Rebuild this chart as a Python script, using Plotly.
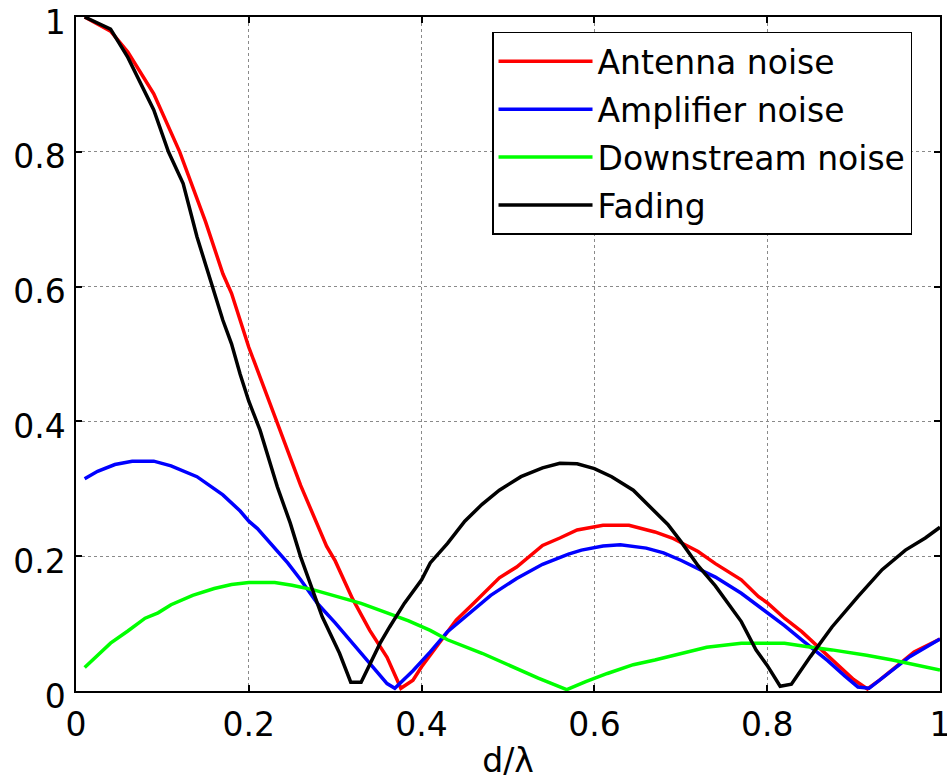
import plotly.graph_objects as go

# Antenna noise (red)
x_antenna = [0.01, 0.04, 0.06, 0.08, 0.09, 0.12, 0.15, 0.17, 0.18, 0.20, 0.22, 0.23, 0.26, 0.29, 0.30,
             0.32, 0.34, 0.36, 0.376, 0.39, 0.40, 0.42, 0.44, 0.46, 0.49, 0.51, 0.54, 0.56, 0.58, 0.61,
             0.64, 0.67, 0.69, 0.72, 0.74, 0.77, 0.79, 0.80, 0.82, 0.84, 0.86, 0.88, 0.90, 0.916, 0.93,
             0.95, 0.97, 1.0]
y_antenna = [1.0, 0.979, 0.948, 0.908, 0.886, 0.80, 0.696, 0.619, 0.59, 0.510, 0.44, 0.408, 0.305, 0.215, 0.193,
             0.137, 0.09, 0.05, 0.004, 0.016, 0.036, 0.07, 0.105, 0.13, 0.168, 0.184, 0.216, 0.227, 0.239, 0.246,
             0.246, 0.236, 0.227, 0.207, 0.189, 0.165, 0.14, 0.131, 0.108, 0.088, 0.064, 0.041, 0.017, 0.003, 0.016,
             0.037, 0.058, 0.077]

# Amplifier noise (blue)
x_amplifier = [0.01, 0.025, 0.045, 0.065, 0.09, 0.11, 0.14, 0.17, 0.19, 0.20, 0.21, 0.23, 0.245, 0.26, 0.28,
               0.30, 0.32, 0.34, 0.36, 0.369, 0.39, 0.41, 0.43, 0.455, 0.48, 0.51, 0.54, 0.57, 0.585, 0.61,
               0.63, 0.66, 0.68, 0.70, 0.74, 0.77, 0.79, 0.82, 0.84, 0.87, 0.89, 0.905, 0.918, 0.94, 0.965, 1.0]
y_amplifier = [0.315, 0.326, 0.336, 0.341, 0.341, 0.334, 0.318, 0.291, 0.267, 0.252, 0.241, 0.212, 0.19, 0.165, 0.129,
               0.101, 0.07, 0.041, 0.011, 0.004, 0.03, 0.058, 0.088, 0.115, 0.142, 0.167, 0.188, 0.203, 0.209, 0.215,
               0.217, 0.212, 0.205, 0.194, 0.169, 0.145, 0.126, 0.097, 0.076, 0.045, 0.022, 0.006, 0.004, 0.026, 0.051, 0.077]

# Downstream noise (green)
x_downstream = [0.01, 0.024, 0.04, 0.06, 0.08, 0.095, 0.11, 0.135, 0.16, 0.18, 0.20, 0.23, 0.25, 0.275, 0.30,
                0.33, 0.36, 0.385, 0.41, 0.43, 0.47, 0.505, 0.535, 0.568, 0.59, 0.615, 0.645, 0.67, 0.70, 0.73,
                0.77, 0.82, 0.845, 0.875, 0.915, 0.945, 1.0]
y_downstream = [0.035, 0.051, 0.071, 0.089, 0.108, 0.116, 0.128, 0.142, 0.152, 0.158, 0.161, 0.161, 0.157, 0.150, 0.141,
                0.13, 0.116, 0.104, 0.09, 0.076, 0.056, 0.036, 0.019, 0.002, 0.014, 0.026, 0.039, 0.046, 0.056, 0.065,
                0.071, 0.071, 0.066, 0.061, 0.053, 0.046, 0.031]

# Fading (black)
x_fading = [0.01, 0.04, 0.06, 0.08, 0.09, 0.107, 0.124, 0.14, 0.155, 0.17, 0.18, 0.19, 0.20, 0.213, 0.233,
            0.248, 0.26, 0.285, 0.305, 0.318, 0.33, 0.352, 0.363, 0.38, 0.40, 0.41, 0.43, 0.45, 0.47, 0.49,
            0.515, 0.54, 0.56, 0.58, 0.60, 0.62, 0.645, 0.67, 0.685, 0.70, 0.72, 0.74, 0.77, 0.787, 0.80,
            0.815, 0.828, 0.85, 0.875, 0.905, 0.933, 0.96, 0.983, 1.0]
y_fading = [1.0, 0.982, 0.94, 0.888, 0.862, 0.80, 0.753, 0.674, 0.614, 0.55, 0.515, 0.47, 0.43, 0.387, 0.303,
            0.249, 0.199, 0.11, 0.056, 0.013, 0.013, 0.071, 0.095, 0.13, 0.165, 0.19, 0.219, 0.252, 0.277, 0.298,
            0.318, 0.331, 0.338, 0.337, 0.330, 0.318, 0.298, 0.267, 0.247, 0.222, 0.186, 0.156, 0.103, 0.061, 0.038,
            0.007, 0.01, 0.051, 0.095, 0.14, 0.18, 0.209, 0.227, 0.243]

tick_vals = [0, 0.2, 0.4, 0.6, 0.8, 1]
tick_text = ["0", "0.2", "0.4", "0.6", "0.8", "1"]

series = [
    ("Antenna noise", x_antenna, y_antenna, "#FF0000"),
    ("Amplifier noise", x_amplifier, y_amplifier, "#0000FF"),
    ("Downstream noise", x_downstream, y_downstream, "#00FF00"),
    ("Fading", x_fading, y_fading, "#000000"),
]

FONT = "DejaVu Sans, Arial, sans-serif"
FS = 33

fig = go.Figure()
for i, (name, xs, ys, col) in enumerate(series):
    fig.add_trace(go.Scatter(x=xs, y=ys, mode="lines", name=name,
                             line=dict(color=col, width=3.5), legendgroup=f"g{i}"))

axis_common = dict(
    range=[0, 1], tickvals=tick_vals, ticktext=tick_text,
    showline=True, linecolor="black", linewidth=1.5, mirror="allticks",
    ticks="inside", ticklen=6, tickwidth=1.5, tickcolor="black",
    showgrid=True, gridcolor="#8a8a8a", gridwidth=1, griddash="dot",
    zeroline=False, tickfont=dict(family=FONT, size=FS, color="black"),
    ticklabeloverflow="allow", automargin=False,
)

fig.update_layout(
    width=947, height=780,
    margin=dict(l=76, r=7, t=17, b=89),
    paper_bgcolor="white", plot_bgcolor="white",
    font=dict(family=FONT, size=FS, color="black"),
    xaxis=dict(**axis_common, title=dict(text="d/λ", font=dict(family=FONT, size=FS), standoff=12),
               ticklabelstandoff=4),
    yaxis=dict(**axis_common, ticklabelstandoff=2, ticklabelshift=5),
    legend=dict(x=0.4815, y=0.978, xanchor="left", yanchor="top",
                bgcolor="white", bordercolor="black", borderwidth=1.5,
                font=dict(family=FONT, size=FS, color="black"),
                itemwidth=94, tracegroupgap=2),
    showlegend=True,
)

fig.write_html("out.html")
